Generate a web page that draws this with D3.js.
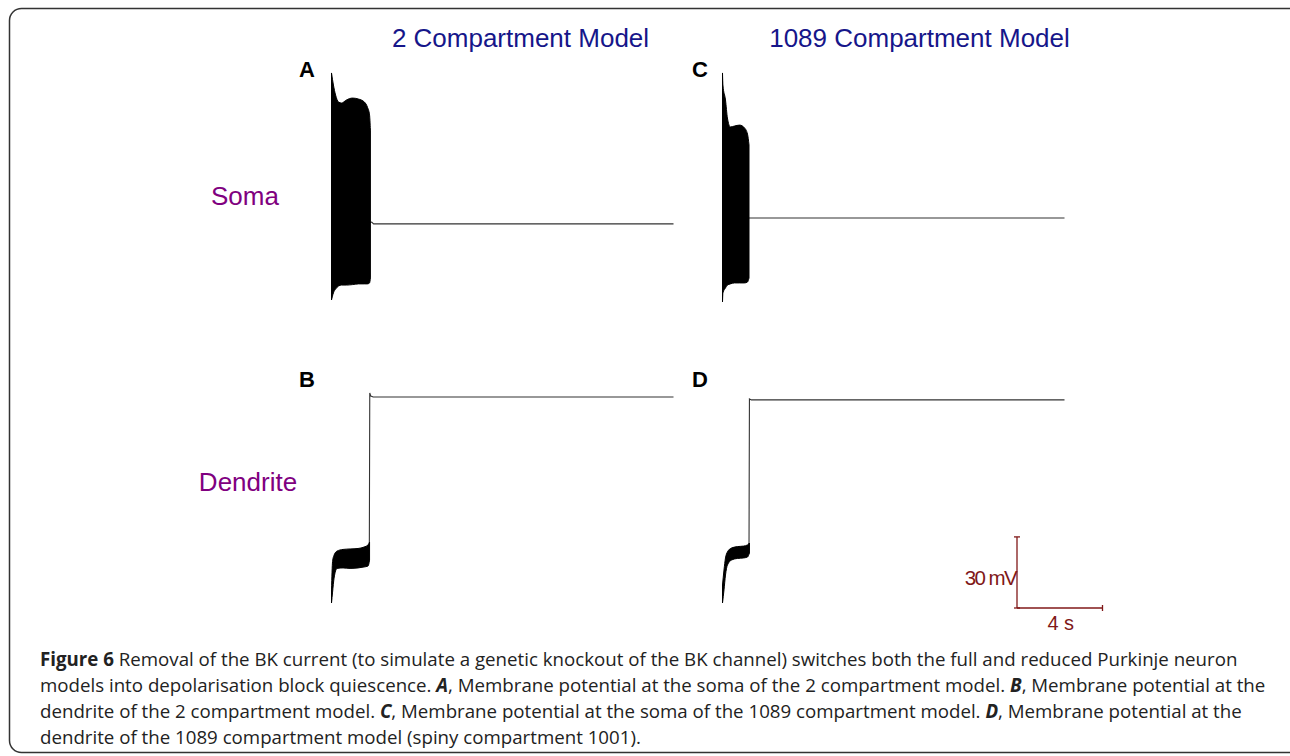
<!DOCTYPE html>
<html>
<head>
<meta charset="utf-8">
<script src="https://cdn.jsdelivr.net/npm/d3@7"></script>
<style>
  html, body { margin: 0; padding: 0; background: #fff; }
  svg { display: block; }
</style>
</head>
<body>
<div id="fig"></div>
<script>
// ---- data (time in s, voltage in mV) ----
const timeDomain = [0, 16];
const voltDomain = [-70, 30];

// panel A : soma, 2 compartment model (spiking envelope then flat block)
const somaA_t  = [0, 0.09, 0.19, 0.33, 0.47, 0.70, 0.98, 1.26, 1.54, 1.68, 1.78, 1.82];
const somaA_hi = [25.8, 20.7, 16.5, 13.5, 13.1, 14.4, 15.2, 14.8, 13.5, 11.4, 8.1, 1.7];
const somaA_lo = [-70, -67.0, -65.4, -64.1, -63.7, -63.7, -63.5, -63.2, -63.2, -63.2, -62.8, -60.7];
const somaA_restT = [1.80, 1.88, 1.97, 16];
const somaA_restV = [-37.3, -37.1, -37.9, -37.9];

// panel C : soma, 1089 compartment model
const somaC_t  = [0, 0.02, 0.14, 0.23, 0.37, 0.56, 0.80, 1.03, 1.17, 1.24];
const somaC_hi = [25.8, 20.7, 14.4, 6.8, 3.0, 3.4, 3.8, 2.6, 0.0, -4.6];
const somaC_lo = [-70.8, -67.0, -64.9, -63.7, -63.2, -62.8, -62.8, -62.8, -62.4, -60.7];
const somaC_restT = [1.22, 16];
const somaC_restV = [-35.4, -35.4];

// panel B : dendrite, 2 compartment model
const dendB_t  = [0, 0.05, 0.12, 0.26, 0.54, 0.87, 1.24, 1.52, 1.71, 1.78];
const dendB_hi = [-64.5, -52.5, -49.8, -48.1, -47.4, -47.2, -47.0, -46.4, -45.5, -44.3];
const dendB_lo = [-70, -65.4, -59.5, -55.4, -55.2, -55.4, -55.2, -54.8, -54.4, -51.9];
const dendB_restT = [1.77, 1.79, 1.84, 1.95, 16];
const dendB_restV = [-46, 18.6, 17.3, 16.9, 16.9];

// panel D : dendrite, 1089 compartment model
const dendD_t  = [0, 0.07, 0.14, 0.23, 0.42, 0.70, 0.98, 1.17, 1.26];
const dendD_hi = [-62.4, -56.1, -51.0, -48.5, -46.8, -46.2, -46.0, -45.5, -44.7];
const dendD_lo = [-70, -64.5, -58.2, -54.0, -51.9, -51.2, -51.0, -50.6, -48.9];
const dendD_restT = [1.24, 1.26, 1.35, 16];
const dendD_restV = [-47.6, 16.1, 15.7, 15.7];

const columnTitles = ["2 Compartment Model", "1089 Compartment Model"];
const rowLabels = ["Soma", "Dendrite"];
const panelLetters = ["A", "C", "B", "D"];

const scaleBarTime = 4;   // s
const scaleBarVolt = 30;  // mV

const captionLines = [
  [["Figure 6", "b"], [" Removal of the BK current (to simulate a genetic knockout of the BK channel) switches both the full and reduced Purkinje neuron", ""]],
  [["models into depolarisation block quiescence. ", ""], ["A", "bi"], [", Membrane potential at the soma of the 2 compartment model. ", ""], ["B", "bi"], [", Membrane potential at the", ""]],
  [["dendrite of the 2 compartment model. ", ""], ["C", "bi"], [", Membrane potential at the soma of the 1089 compartment model. ", ""], ["D", "bi"], [", Membrane potential at the", ""]],
  [["dendrite of the 1089 compartment model (spiny compartment 1001).", ""]]
];

// ---- layout ----
const width = 1290, height = 756;
const colX = [331.5, 722.5];   // left edge (t = 0) of each column
const colW = 342;
const rowBase = [300, 603];    // y of -70 mV in each row
const pxPerMV = 2.37;

const svg = d3.select("#fig").append("svg")
    .attr("width", width)
    .attr("height", height);

// figure frame
svg.append("rect")
    .attr("x", 9.5).attr("y", 8.5)
    .attr("width", 1291).attr("height", 744)
    .attr("rx", 12).attr("ry", 12)
    .attr("fill", "none")
    .attr("stroke", "#333")
    .attr("stroke-width", 1.5);

const xScales = colX.map(x0 => d3.scaleLinear().domain(timeDomain).range([x0, x0 + colW]));
const yScales = rowBase.map(b => d3.scaleLinear().domain(voltDomain)
    .range([b, b - (voltDomain[1] - voltDomain[0]) * pxPerMV]));

const panels = [
  {col: 0, row: 0, t: somaA_t, hi: somaA_hi, lo: somaA_lo, rt: somaA_restT, rv: somaA_restV},
  {col: 1, row: 0, t: somaC_t, hi: somaC_hi, lo: somaC_lo, rt: somaC_restT, rv: somaC_restV},
  {col: 0, row: 1, t: dendB_t, hi: dendB_hi, lo: dendB_lo, rt: dendB_restT, rv: dendB_restV},
  {col: 1, row: 1, t: dendD_t, hi: dendD_hi, lo: dendD_lo, rt: dendD_restT, rv: dendD_restV}
];

panels.forEach(p => {
    const x = xScales[p.col], y = yScales[p.row];
    const env = p.t.map((t, i) => ({t: t, hi: p.hi[i], lo: p.lo[i]}));
    const rest = p.rt.map((t, i) => ({t: t, v: p.rv[i]}));

    // resting / block line
    svg.append("path")
        .datum(rest)
        .attr("fill", "none")
        .attr("stroke", "#333")
        .attr("stroke-width", 1.1)
        .attr("d", d3.line().x(d => x(d.t)).y(d => y(d.v)));

    // dense spiking shown as filled envelope
    svg.append("path")
        .datum(env)
        .attr("fill", "#000")
        .attr("stroke", "#000")
        .attr("stroke-width", 1)
        .attr("d", d3.area()
            .curve(d3.curveMonotoneX)
            .x(d => x(d.t))
            .y0(d => y(d.lo))
            .y1(d => y(d.hi)));
});

const sans = "'Liberation Sans', Arial, sans-serif";

// column titles
columnTitles.forEach((s, i) => {
    svg.append("text")
        .attr("x", [520.5, 919.5][i])
        .attr("y", 47)
        .attr("text-anchor", "middle")
        .attr("font-family", sans)
        .attr("font-size", 26)
        .attr("fill", "#16168a")
        .text(s);
});

// row labels
rowLabels.forEach((s, i) => {
    svg.append("text")
        .attr("x", [245, 248][i])
        .attr("y", [205, 491][i])
        .attr("text-anchor", "middle")
        .attr("font-family", sans)
        .attr("font-size", 26)
        .attr("fill", "#800080")
        .text(s);
});

// panel letters
panelLetters.forEach((s, i) => {
    svg.append("text")
        .attr("x", [299, 692, 299, 692][i])
        .attr("y", [77, 77, 387, 387][i])
        .attr("font-family", sans)
        .attr("font-weight", "bold")
        .attr("font-size", 22)
        .attr("fill", "#000")
        .text(s);
});

// scale bar
const sbColor = "#801818";
const sbX = 1017, sbY = 608;
const sbW = xScales[1](scaleBarTime) - xScales[1](0);
const sbH = yScales[1](voltDomain[0]) - yScales[1](voltDomain[0] + scaleBarVolt);
const sb = svg.append("g").attr("stroke", sbColor).attr("stroke-width", 1.3).attr("fill", "none");
sb.append("line").attr("x1", sbX).attr("y1", sbY).attr("x2", sbX).attr("y2", sbY - sbH);
sb.append("line").attr("x1", sbX).attr("y1", sbY).attr("x2", sbX + sbW).attr("y2", sbY);
sb.append("line").attr("x1", sbX - 3).attr("y1", sbY - sbH).attr("x2", sbX + 3).attr("y2", sbY - sbH);
sb.append("line").attr("x1", sbX + sbW).attr("y1", sbY - 3).attr("x2", sbX + sbW).attr("y2", sbY + 3);
sb.append("line").attr("x1", sbX - 3).attr("y1", sbY).attr("x2", sbX + 3).attr("y2", sbY);

svg.append("text")
    .attr("x", sbX - 1).attr("y", 585)
    .attr("text-anchor", "end")
    .attr("font-family", sans)
    .attr("font-size", 20.5)
    .attr("letter-spacing", -1.6)
    .attr("fill", sbColor)
    .text(scaleBarVolt + " mV");

svg.append("text")
    .attr("x", sbX + sbW / 2 + 1).attr("y", 630)
    .attr("text-anchor", "middle")
    .attr("font-family", sans)
    .attr("font-size", 20)
    .attr("fill", sbColor)
    .text(scaleBarTime + " s");

// caption
captionLines.forEach((parts, i) => {
    const t = svg.append("text")
        .attr("x", 40)
        .attr("y", 666 + i * 26)
        .attr("font-family", "'Open Sans', sans-serif")
        .attr("font-size", 18.7)
        .attr("fill", "#222");
    parts.forEach(([s, st]) => {
        t.append("tspan")
            .attr("font-weight", st.includes("b") ? "bold" : null)
            .attr("font-style", st.includes("i") ? "italic" : null)
            .text(s);
    });
});
</script>
</body>
</html>
